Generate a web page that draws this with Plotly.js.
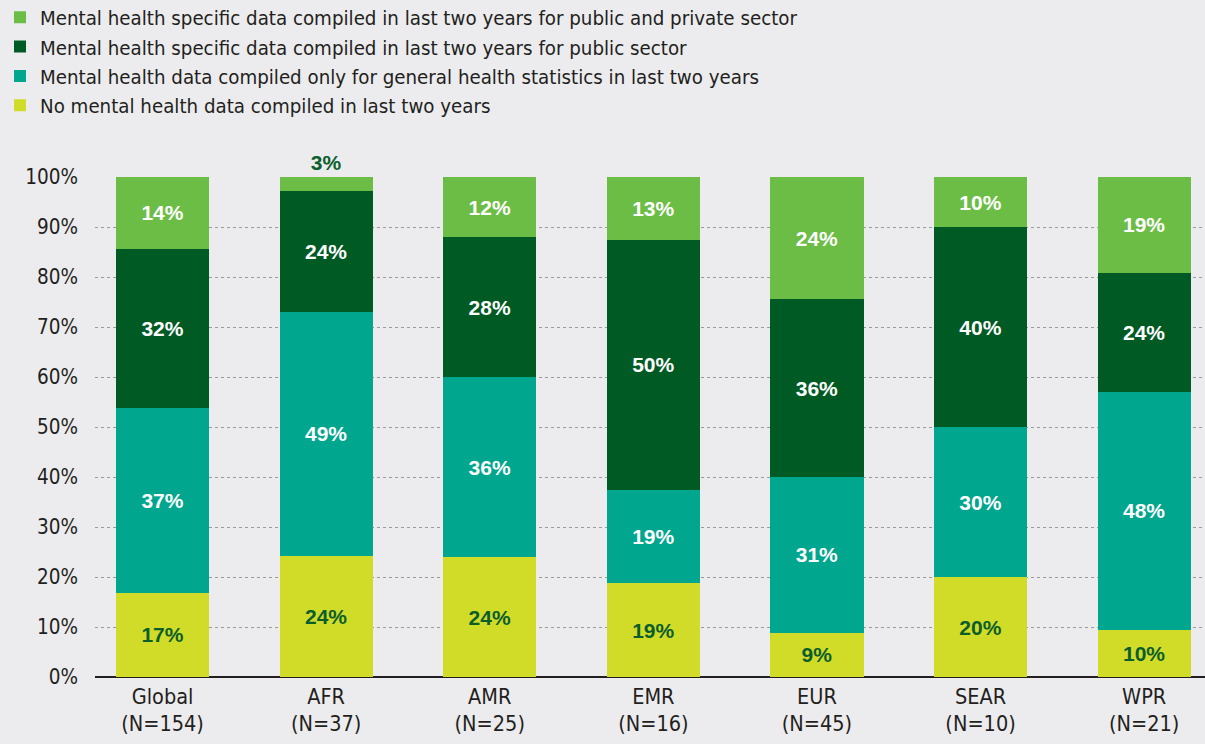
<!DOCTYPE html>
<html>
<head>
<meta charset="utf-8">
<script src="https://cdn.plot.ly/plotly-3.0.1.min.js"></script>
<style>
  html, body { margin: 0; padding: 0; background: #ececee; }
  #chart { width: 1205px; height: 744px; }
</style>
</head>
<body>
<div id="chart"></div>
<script>
// Categories (regions) and sample sizes
const regions = ["Global", "AFR", "AMR", "EMR", "EUR", "SEAR", "WPR"];
const sampleSizes = ["N=154", "N=37", "N=25", "N=16", "N=45", "N=10", "N=21"];

// Series values (% of countries), bottom to top of the stack
const noData        = [16.9, 24.3, 24.0, 18.75, 8.9, 20.0, 9.5];
const generalOnly   = [37.0, 48.7, 36.0, 18.75, 31.1, 30.0, 47.6];
const publicSector  = [31.8, 24.3, 28.0, 50.0, 35.6, 40.0, 23.8];
const publicPrivate = [14.3, 2.7, 12.0, 12.5, 24.4, 10.0, 19.1];

// Series names
const seriesNames = [
  "No mental health data compiled in last two years",
  "Mental health data compiled only for general health statistics in last two years",
  "Mental health specific data compiled in last two years for public sector",
  "Mental health specific data compiled in last two years for public and private sector"
];

const colors = ["#d0dc27", "#00a68d", "#005a24", "#6cbd45"];
const labelColors = ["#0b5e2b", "#ffffff", "#ffffff", "#ffffff"];
const series = [noData, generalOnly, publicSector, publicPrivate];

const xLabels = regions.map((r, i) => r + "<br>(" + sampleSizes[i] + ")");

const regularFont = "DejaVu Sans Condensed, Liberation Sans, Arial, sans-serif";
const boldFont = "Liberation Sans, Arial, sans-serif";

const traces = series.map((vals, k) => ({
  type: "bar",
  name: seriesNames[k],
  x: xLabels,
  y: vals,
  width: 0.57,
  marker: { color: colors[k], line: { width: 0 } },
  text: vals.map(v => Math.round(v) + "%"),
  textposition: k === 3 ? "auto" : "inside",
  insidetextanchor: "middle",
  textangle: 0,
  constraintext: "none",
  cliponaxis: false,
  insidetextfont: { family: boldFont, size: 21, color: labelColors[k], weight: "bold" },
  outsidetextfont: { family: boldFont, size: 21, color: "#0b5e2b", weight: "bold" },
  hoverinfo: "skip"
}));

const layout = {
  width: 1205,
  height: 744,
  barmode: "stack",
  paper_bgcolor: "#ececee",
  plot_bgcolor: "#ececee",
  margin: { l: 95, r: 0, t: 177, b: 67, autoexpand: false },
  font: { family: regularFont, size: 20.5, color: "#231f20" },
  showlegend: true,
  legend: {
    xref: "container", yref: "paper",
    x: 0, y: 1.359, xanchor: "left", yanchor: "top",
    orientation: "v",
    traceorder: "reversed",
    bgcolor: "rgba(0,0,0,0)",
    font: { family: regularFont, size: 20.3, color: "#231f20" },
    itemclick: false
  },
  xaxis: {
    type: "category",
    range: [-0.413, 6.372],
    showgrid: false,
    showline: false,
    zeroline: false,
    ticks: "",
    tickangle: 0,
    ticklabelstandoff: 4,
    tickfont: { family: regularFont, size: 21.5, color: "#231f20" },
    fixedrange: true
  },
  yaxis: {
    range: [0, 100],
    dtick: 10,
    ticksuffix: "%",
    showgrid: true,
    gridcolor: "#9a9a9a",
    griddash: "dot",
    gridwidth: 1,
    zeroline: true,
    zerolinecolor: "#231f20",
    zerolinewidth: 2,
    showline: false,
    ticks: "",
    ticklabelstandoff: 16,
    tickfont: { family: regularFont, size: 20.5, color: "#231f20" },
    fixedrange: true
  }
};

Plotly.newPlot("chart", traces, layout, { displayModeBar: false, staticPlot: true });
</script>
</body>
</html>
